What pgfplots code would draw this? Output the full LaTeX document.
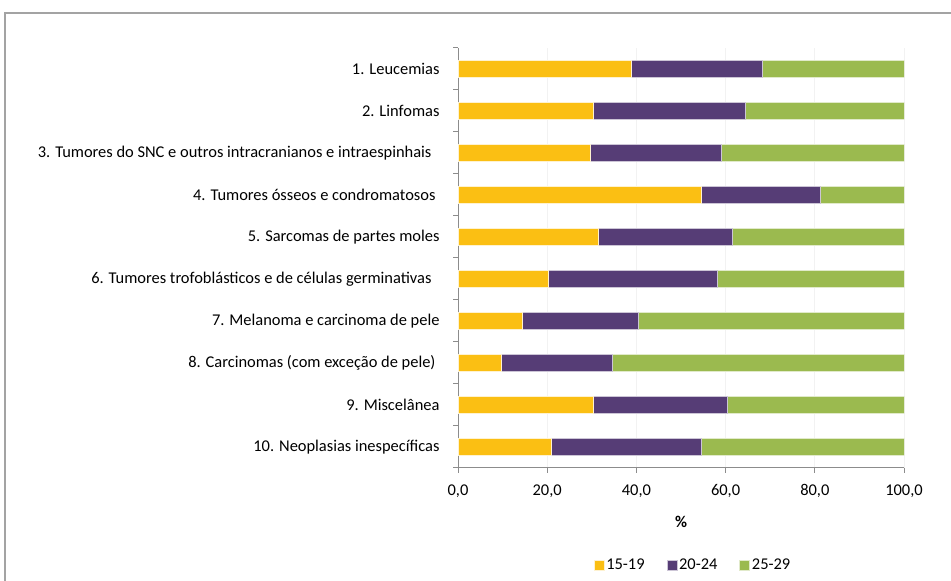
\documentclass[border=0pt]{standalone}
\usepackage{pgfplots}
\pgfplotsset{compat=1.18}
\usepackage{fontspec}
\setmainfont{Carlito}
\definecolor{cy}{HTML}{FBBF13}
\definecolor{cp}{HTML}{563D76}
\definecolor{cg}{HTML}{9BBA4F}
\definecolor{ax}{HTML}{8C8C8C}
\begin{document}
\begin{tikzpicture}[x=1bp,y=1bp]
\useasboundingbox (0,0) rectangle (951,581);
\draw[ax!80, line width=1.2bp] (5,-20) -- (5,568) -- (970,568);
\begin{axis}[
  at={(458bp,113bp)}, anchor=south west,
  scale only axis, width=446bp, height=420bp,
  xbar stacked, bar width=17bp,
  xmin=0, xmax=100, ymin=0.5, ymax=10.5,
  axis x line*=bottom, axis y line*=left,
  axis line style={ax, line width=1bp},
  every tick/.style={ax, line width=1bp},
  tick align=outside,
  xtick={0,20,...,100},
  major tick length=5bp,
  xmajorgrids, grid style={gray!10, line width=0.8bp},
  ytick={1,...,10},
  y tick style={draw=none},
  yticklabels={10. Neoplasias inespecíficas,9. Miscelânea,8. Carcinomas (com exceção de pele)\kern4bp,7. Melanoma e carcinoma de pele,6. Tumores trofoblásticos e de células germinativas\kern8bp,5. Sarcomas de partes moles,4. Tumores ósseos e condromatosos\kern4bp,3. Tumores do SNC e outros intracranianos e intraespinhais\kern8bp,2. Linfomas,1. Leucemias},
  extra y ticks={0.5,1.5,...,10.5},
  extra y tick labels={},
  extra y tick style={y tick style={draw=ax, line width=1bp}, major tick length=5bp},
  yticklabel style={font=\fontsize{16.5}{19}\selectfont, xshift=-10bp},
  xticklabel style={font=\fontsize{16.5}{19}\selectfont, yshift=-8bp},
  /pgf/number format/.cd, fixed, fixed zerofill, precision=1, use comma, assume math mode=true,
  /pgfplots/.cd,
  xlabel={\textbf{\%}},
  xlabel style={font=\fontsize{16.5}{19}\selectfont, at={(0.5,-0.129)}, anchor=center},
  legend style={at={(0.527,-0.231)}, anchor=center, draw=none, legend columns=3,
    font=\fontsize{16.5}{19}\selectfont,
    /tikz/every even column/.append style={column sep=20bp}},
  legend image code/.code={\fill[#1] (4bp,-5bp) rectangle (14bp,5bp);},
]
\addplot[fill=cy, draw=white!80!cy, line width=0.5bp] coordinates {(20.9,1) (30.3,2) (9.6,3) (14.3,4) (20.2,5) (31.4,6) (54.5,7) (29.6,8) (30.3,9) (38.8,10)};
\addplot[fill=cp, draw=white!70!cp, line width=0.5bp] coordinates {(33.6,1) (30.0,2) (24.9,3) (26.1,4) (37.9,5) (30.0,6) (26.7,7) (29.4,8) (34.0,9) (29.4,10)};
\addplot[fill=cg, draw=white!70!cg, line width=0.5bp] coordinates {(45.5,1) (39.7,2) (65.5,3) (59.6,4) (41.9,5) (38.6,6) (18.8,7) (41.0,8) (35.7,9) (31.8,10)};
\legend{15-19,20-24,25-29}
\end{axis}
\end{tikzpicture}
\end{document}
